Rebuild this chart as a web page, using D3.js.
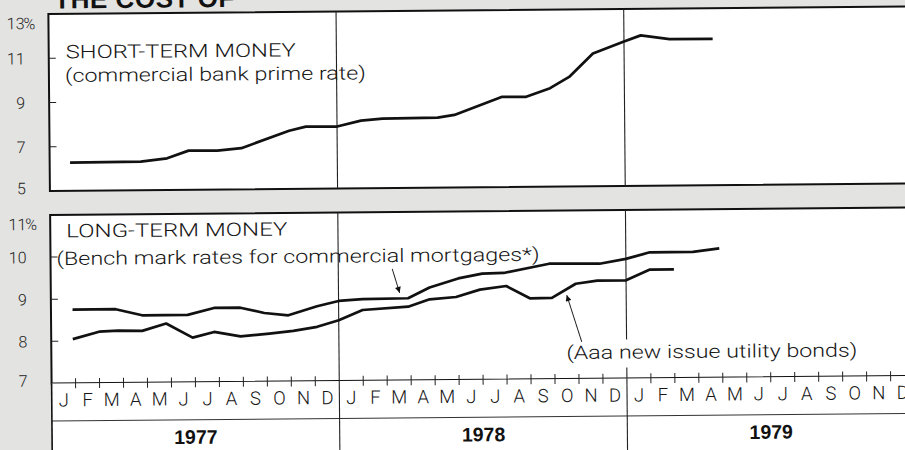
<!DOCTYPE html>
<html>
<head>
<meta charset="utf-8">
<script src="https://cdn.jsdelivr.net/npm/d3@7"></script>
<style>
  body { margin: 0; background: #e3e3e1; }
  svg { display: block; }
  .txt { font-family: Roboto, "Liberation Sans", sans-serif; font-weight: 300; fill: #161616; }
  .num { font-family: Roboto, "Liberation Sans", sans-serif; font-weight: 300; fill: #222; font-size: 16px; }
  .yr { font-family: "Liberation Sans", Arial, sans-serif; font-weight: bold; font-size: 19.5px; fill: #111; }
</style>
</head>
<body>
<svg id="chart" width="905" height="450"></svg>
<script>
// month position: 0 = start of Jan 1977, 36 = end of Dec 1979
var monthLetters = ['J', 'F', 'M', 'A', 'M', 'J', 'J', 'A', 'S', 'O', 'N', 'D'];
var years = ['1977', '1978', '1979'];
var shortTicks = [5, 7, 9, 11, 13];
var longTicks = [7, 8, 9, 10, 11];

// commercial bank prime rate
var primeMonth = [0.85, 3.8, 4.9, 5.8, 7, 8, 10, 10.7, 12, 13, 13.9, 16.2, 16.9, 18.9, 19.9, 20.9, 21.7, 22.7, 24, 24.7, 25.9, 27.7];
var primeRate = [6.27, 6.29, 6.43, 6.77, 6.76, 6.86, 7.63, 7.81, 7.8, 8.06, 8.14, 8.16, 8.28, 9.08, 9.07, 9.45, 9.95, 11.0, 11.53, 11.8, 11.62, 11.61];

// bench mark rates for commercial mortgages
var mortgageMonth = [0.9, 2.7, 3.8, 5.7, 6.8, 7.9, 8.9, 9.9, 11.1, 12, 13, 14.9, 15.8, 17, 18, 18.9, 20.8, 22.9, 24, 25, 26.8, 27.9];
var mortgageRate = [8.75, 8.75, 8.6, 8.6, 8.76, 8.76, 8.63, 8.57, 8.78, 8.9, 8.94, 8.95, 9.2, 9.41, 9.52, 9.53, 9.74, 9.73, 9.84, 9.99, 9.99, 10.07];

// Aaa new issue utility bonds
var bondMonth = [0.9, 2, 2.8, 3.8, 4.8, 5.9, 6.8, 7.9, 9.1, 10.1, 11.1, 12, 13, 14.9, 15.8, 16.9, 17.9, 19, 20, 20.9, 21.9, 22.8, 24, 25, 26];
var bondRate = [8.05, 8.22, 8.24, 8.23, 8.4, 8.06, 8.19, 8.08, 8.14, 8.2, 8.29, 8.44, 8.68, 8.75, 8.92, 8.97, 9.14, 9.22, 8.92, 8.93, 9.26, 9.33, 9.33, 9.58, 9.58];

// annotation arrows [month, rate] from -> to
var mortgageArrow = [[14.25, 9.65], [14.55, 9.08]];
var bondArrow = [[22.13, 7.88], [21.52, 8.99]];

var svg = d3.select('#chart');
var defs = svg.append('defs');
defs.append('marker')
    .attr('id', 'head')
    .attr('viewBox', '0 0 10 10')
    .attr('refX', 10).attr('refY', 5)
    .attr('markerWidth', 7).attr('markerHeight', 6)
    .attr('markerUnits', 'userSpaceOnUse')
    .attr('orient', 'auto')
    .append('path').attr('d', 'M0,0L10,5L0,10z').attr('fill', '#111');

svg.append('rect').attr('width', 905).attr('height', 450).attr('fill', '#e3e3e1');

// the scan is slightly tilted
var g = svg.append('g').attr('transform', 'rotate(-0.5,50,200)');

var x = d3.scaleLinear().domain([0, 36]).range([50, 913]);
var yS = d3.scaleLinear().domain([5, 13]).range([191, 14]);
var yL = d3.scaleLinear().domain([7, 11]).range([383.5, 215]);
var right = 960;

// title (cut off at the top of the page)
g.append('text').attr('class', 'yr')
    .attr('x', 56).attr('y', 8.5)
    .attr('textLength', 180).attr('lengthAdjust', 'spacing')
    .style('font-size', '26px')
    .text('THE COST OF');

// panel frames
g.append('rect').attr('x', x(0)).attr('y', yS(13)).attr('width', right).attr('height', yS(5) - yS(13))
    .attr('fill', '#fff').attr('stroke', '#111').attr('stroke-width', 2);
g.append('rect').attr('x', x(0)).attr('y', yL(11)).attr('width', right).attr('height', yL(7) - yL(11))
    .attr('fill', '#fff').attr('stroke', '#111').attr('stroke-width', 2);

// month / year box below
g.append('rect').attr('x', x(0)).attr('y', yL(7)).attr('width', right).attr('height', 100)
    .attr('fill', '#fff');
g.append('line').attr('x1', x(0)).attr('x2', right).attr('y1', 421).attr('y2', 421)
    .attr('stroke', '#333').attr('stroke-width', 1);
g.append('line').attr('x1', x(0)).attr('x2', x(0)).attr('y1', yL(7)).attr('y2', 470)
    .attr('stroke', '#111').attr('stroke-width', 1.6);

// y axes
function yAxis(scale, ticks, ticksShown, cls) {
    var ax = g.append('g').attr('class', cls).attr('transform', 'translate(' + x(0) + ',0)')
        .call(d3.axisLeft(scale).tickValues(ticks).tickSize(0).tickPadding(24).tickFormat(d3.format('d')));
    ax.select('.domain').remove();
    ax.attr('font-family', null).attr('font-size', null);
    ax.selectAll('text').attr('class', 'num').attr('fill', null)
        .attr('dy', function(d) {
            if (d === ticks[ticks.length - 1]) return '0.9em';
            if (d === ticks[0]) return '0.15em';
            return '0.34em';
        });
    ax.selectAll('.tick').filter(function(d) { return d === ticks[ticks.length - 1]; })
        .append('text').attr('class', 'num').attr('x', -25).attr('dy', '0.9em')
        .attr('text-anchor', 'start').text('%');
    g.selectAll('.' + cls + 't').data(ticksShown).enter().append('line')
        .attr('x1', x(0)).attr('x2', x(0) + 7)
        .attr('y1', function(d) { return scale(d); })
        .attr('y2', function(d) { return scale(d); })
        .attr('stroke', '#222').attr('stroke-width', 1);
}
yAxis(yS, shortTicks, [7, 9, 11], 'ys');
yAxis(yL, longTicks, [8, 9, 10], 'yl');

// year dividers
[12, 24].forEach(function(m) {
    g.append('line').attr('x1', x(m)).attr('x2', x(m)).attr('y1', yS(13)).attr('y2', yS(5))
        .attr('stroke', '#222').attr('stroke-width', 1.1);
    g.append('line').attr('x1', x(m)).attr('x2', x(m)).attr('y1', yL(7)).attr('y2', 470)
        .attr('stroke', '#222').attr('stroke-width', 1.1);
});

// month ticks on the bottom axis
g.selectAll('.mtick').data(d3.range(1, 36).filter(function(d) { return d % 12 !== 0; }))
    .enter().append('line')
    .attr('x1', function(d) { return x(d); }).attr('x2', function(d) { return x(d); })
    .attr('y1', yL(7) - 5).attr('y2', yL(7) + 5)
    .attr('stroke', '#222').attr('stroke-width', 1);

// month letters
g.selectAll('.mlab').data(d3.range(36)).enter().append('text')
    .attr('class', 'txt')
    .attr('x', function(d) { return x(d + 0.5); })
    .attr('y', 406.5)
    .attr('text-anchor', 'middle')
    .style('font-size', '18.5px')
    .text(function(d) { return monthLetters[d % 12]; });

// year labels
g.selectAll('.ylab').data(years).enter().append('text')
    .attr('class', 'yr')
    .attr('x', function(d, i) { return x(i * 12 + 6); })
    .attr('y', 445)
    .attr('text-anchor', 'middle')
    .text(function(d) { return d; });

// panel texts
function label(t, px, py, w) {
    return g.append('text').attr('class', 'txt')
        .attr('x', px).attr('y', py)
        .attr('textLength', w).attr('lengthAdjust', 'spacingAndGlyphs')
        .style('font-size', '18.5px')
        .text(t);
}
label('SHORT-TERM MONEY', 67, 58.5, 230);
label('(commercial bank prime rate)', 66, 82, 301);
label('LONG-TERM MONEY', 66, 237.5, 221);
label('(Bench mark rates for commercial mortgages*)', 56, 265, 483);
var bondLabel = label('(Aaa new issue utility bonds)', 565, 363.5, 291);

// 1979 divider in the lower panel, broken around the bond label
var bb = bondLabel.node().getBBox();
g.append('line').attr('x1', x(24)).attr('x2', x(24)).attr('y1', yL(11)).attr('y2', bb.y - 2)
    .attr('stroke', '#222').attr('stroke-width', 1.1);
g.append('line').attr('x1', x(24)).attr('x2', x(24)).attr('y1', bb.y + bb.height + 4).attr('y2', yL(7))
    .attr('stroke', '#222').attr('stroke-width', 1.1);
g.append('line').attr('x1', x(12)).attr('x2', x(12)).attr('y1', yL(11)).attr('y2', yL(7))
    .attr('stroke', '#222').attr('stroke-width', 1.1);

// series
function series(ms, vs, scale) {
    var pts = ms.map(function(m, i) { return [m, vs[i]]; });
    var line = d3.line().x(function(d) { return x(d[0]); }).y(function(d) { return scale(d[1]); });
    g.append('path').datum(pts).attr('d', line)
        .attr('fill', 'none').attr('stroke', '#111')
        .attr('stroke-width', 2.7).attr('stroke-linejoin', 'round');
}
series(primeMonth, primeRate, yS);
series(mortgageMonth, mortgageRate, yL);
series(bondMonth, bondRate, yL);

// arrows
[mortgageArrow, bondArrow].forEach(function(a) {
    g.append('line')
        .attr('x1', x(a[0][0])).attr('y1', yL(a[0][1]))
        .attr('x2', x(a[1][0])).attr('y2', yL(a[1][1]))
        .attr('stroke', '#222').attr('stroke-width', 1)
        .attr('marker-end', 'url(#head)');
});
</script>
</body>
</html>
